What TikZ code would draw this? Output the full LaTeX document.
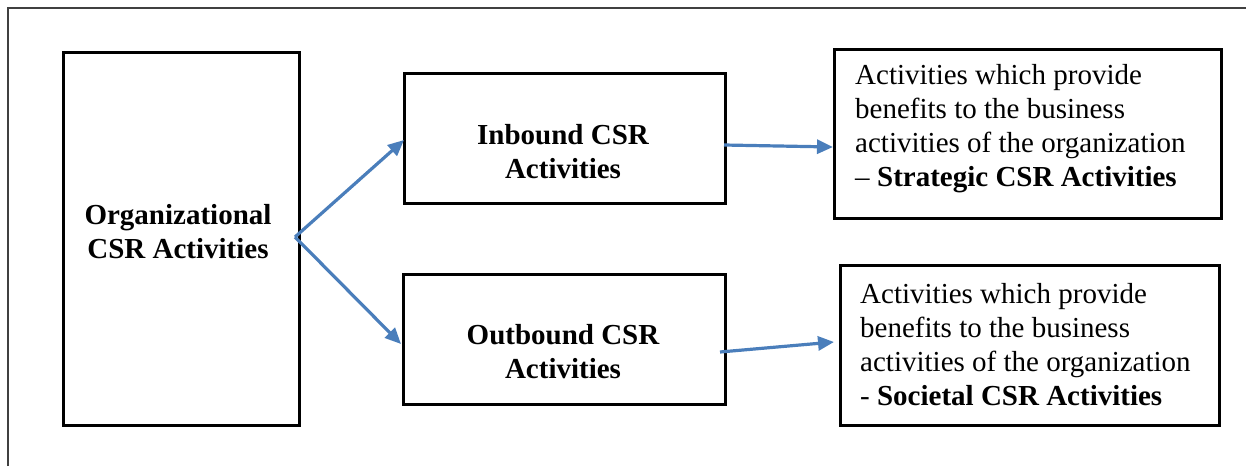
\documentclass[tikz,border=0pt]{standalone}
\usepackage{fontspec}
\setmainfont{Liberation Serif}
\usetikzlibrary{arrows.meta}
\definecolor{arrowblue}{HTML}{4A7EBB}
\definecolor{framegray}{HTML}{404040}
\tikzset{
  box/.style={draw=black, line width=3pt, inner sep=0pt, anchor=north west},
  txt/.style={font=\fontsize{29}{34}\selectfont, inner sep=0pt},
  btxt/.style={txt, font=\fontsize{29}{34}\selectfont\bfseries, align=center},
  ltxt/.style={txt, align=left, anchor=west},
  conn/.style={draw=arrowblue, line width=3.2pt, -{Triangle[length=16pt,width=14pt]}},
}
\begin{document}
\begin{tikzpicture}[x=1pt,y=-1pt]
\useasboundingbox (0,0) rectangle (1246,466);
% outer frame
\draw[framegray, line width=1.5pt] (8,466) -- (8,8) -- (1246,8);
% boxes
\node[box, minimum width=236pt, minimum height=373pt] (A) at (62,51) {};
\node[box, minimum width=321pt, minimum height=130pt] (B) at (403,72) {};
\node[box, minimum width=322pt, minimum height=130pt] (C) at (402,273) {};
\node[box, minimum width=387pt, minimum height=169pt] (D) at (833,48) {};
\node[box, minimum width=379pt, minimum height=160pt] (E) at (839,264) {};
% texts
\node[btxt] (At) at (178,232) {Organizational\\CSR Activities};
\node[btxt] (Bt) at (563,152) {Inbound CSR\\Activities};
\node[btxt] (Ct) at (563,352) {Outbound CSR\\Activities};
\node[ltxt] (Dt) at (855,129) {Activities which provide\\benefits to the business\\activities of the organization\\\textendash{} \textbf{Strategic CSR Activities}};
\node[ltxt] (Et) at (860,345) {Activities which provide\\benefits to the business\\activities of the organization\\- \textbf{Societal CSR Activities}};
% connectors
\coordinate (split) at (295,237);
\coordinate (Bin) at (404,140);
\coordinate (Cin) at (401,344);
\coordinate (Bout) at (724,145);
\coordinate (Din) at (833,147);
\coordinate (Cout) at (720,352);
\coordinate (Ein) at (834,342);
\draw[conn] (split) -- (Bin);
\draw[conn] (split) -- (Cin);
\draw[conn] (Bout) -- (Din);
\draw[conn] (Cout) -- (Ein);
\end{tikzpicture}
\end{document}
